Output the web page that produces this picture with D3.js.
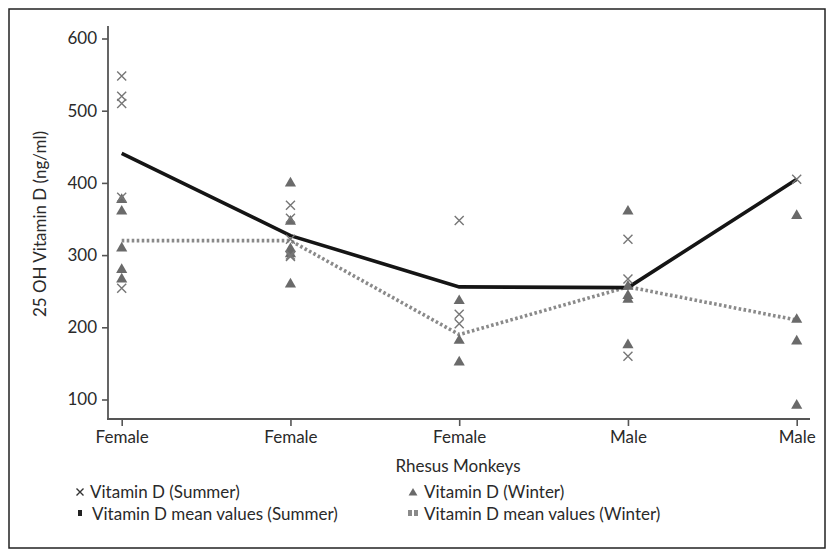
<!DOCTYPE html>
<html><head><meta charset="utf-8">
<script src="https://cdn.jsdelivr.net/npm/d3@7"></script>
<style>
html,body{margin:0;padding:0;background:#fff;}
text{font-family:Lato,"Open Sans",sans-serif;fill:#2a2a2a;}
</style></head>
<body>
<svg id="chart" width="826" height="558"></svg>
<script>
const categories = ["Female","Female","Female","Male","Male"];
const summerValues = [[548,520,510,380,254],[369,351,322,300,298],[348,218,205],[322,267,160],[405]];
const winterValues = [[378,362,311,281,268],[401,348,310,303,261],[238,183,153],[362,258,245,240,177],[356,212,182,93]];
const summerMean = [441,327,256,255,405];
const winterMean = [320,320,190,256,210];
const yTicks = [100,200,300,400,500,600];
const legendItems = ["Vitamin D (Summer)","Vitamin D (Winter)","Vitamin D mean values (Summer)","Vitamin D mean values (Winter)"];

const svg = d3.select("#chart");
const FS = 17;
svg.append("rect").attr("x",9).attr("y",9).attr("width",816).attr("height",539)
  .attr("fill","none").attr("stroke","#222").attr("stroke-width",1.5);

const y0 = d3.scaleLinear().domain([100,600]).range([399.5,38.5]);
const y = d3.scaleLinear().domain([y0.invert(419), y0.invert(26)]).range([419,26]);
const x = d3.scalePoint().domain(d3.range(categories.length)).range([121.7,796.7]);

const axisCol = "#555";
const gy = svg.append("g").attr("transform","translate(108,0)")
  .call(d3.axisLeft(y).tickValues(yTicks).tickSize(6).tickPadding(5));
gy.select(".domain").remove();
gy.selectAll(".tick line").attr("stroke",axisCol).attr("stroke-width",1.6);
gy.selectAll(".tick text").style("font-size",FS+"px").style("font-family","Lato").attr("fill","#2a2a2a");
svg.append("line").attr("x1",108).attr("x2",108).attr("y1",26).attr("y2",420)
  .attr("stroke",axisCol).attr("stroke-width",1.8);

const gx = svg.append("g").attr("transform","translate(0,419)")
  .call(d3.axisBottom(x).tickFormat(i=>categories[i]).tickSize(7).tickPadding(5));
gx.select(".domain").remove();
gx.selectAll(".tick line").attr("stroke",axisCol).attr("stroke-width",1.6);
gx.selectAll(".tick text").style("font-size",FS+"px").style("font-family","Lato").attr("fill","#2a2a2a");
svg.append("line").attr("x1",107).attr("x2",810).attr("y1",419).attr("y2",419)
  .attr("stroke",axisCol).attr("stroke-width",1.8);

svg.append("text").attr("x",458).attr("y",472).attr("text-anchor","middle")
  .style("font-size",FS+"px").text("Rhesus Monkeys");
svg.append("text").attr("transform","translate(46,224) rotate(-90)").attr("text-anchor","middle")
  .style("font-size",FS+"px").text("25 OH Vitamin D (ng/ml)");

const line = d3.line().x((d,i)=>x(i)).y(d=>y(d));
svg.append("path").datum(winterMean).attr("d",line).attr("fill","none")
  .attr("stroke","#8a8a8a").attr("stroke-width",3.6).attr("stroke-dasharray","2.6,2.4");
svg.append("path").datum(summerMean).attr("d",line).attr("fill","none")
  .attr("stroke","#151515").attr("stroke-width",3.6);

const summerPts = summerValues.flatMap((arr,i)=>arr.map(v=>({i,v})));
const winterPts = winterValues.flatMap((arr,i)=>arr.map(v=>({i,v})));
const tri = d3.symbol().type(d3.symbolTriangle).size(54);
svg.append("g").selectAll("path").data(winterPts).join("path")
  .attr("d",tri).attr("transform",d=>`translate(${x(d.i)},${y(d.v)+1})`)
  .attr("fill","#6a6a6a");
const xs = 4.5;
svg.append("g").selectAll("path").data(summerPts).join("path")
  .attr("d",`M${-xs},${-xs}L${xs},${xs}M${-xs},${xs}L${xs},${-xs}`)
  .attr("transform",d=>`translate(${x(d.i)},${y(d.v)})`)
  .attr("stroke","#777").attr("stroke-width",1.4).attr("fill","none");

const lg = svg.append("g");
const LFS = 17;
lg.append("path").attr("d","M-3.5,-3.5L3.5,3.5M-3.5,3.5L3.5,-3.5").attr("transform","translate(80,492)")
  .attr("stroke","#333").attr("stroke-width",1.4);
lg.append("text").attr("x",90).attr("y",498).style("font-size",LFS+"px").text(legendItems[0]);
lg.append("path").attr("d",d3.symbol().type(d3.symbolTriangle).size(34)()).attr("transform","translate(413,493)").attr("fill","#6a6a6a");
lg.append("text").attr("x",424).attr("y",498).style("font-size",LFS+"px").text(legendItems[1]);
lg.append("rect").attr("x",78).attr("y",510).attr("width",4).attr("height",6).attr("fill","#222");
lg.append("text").attr("x",92).attr("y",520).style("font-size",LFS+"px").text(legendItems[2]);
lg.append("rect").attr("x",408).attr("y",510).attr("width",4).attr("height",6).attr("fill","#8a8a8a");
lg.append("rect").attr("x",414).attr("y",510).attr("width",4).attr("height",6).attr("fill","#8a8a8a");
lg.append("text").attr("x",424).attr("y",520).style("font-size",LFS+"px").text(legendItems[3]);
</script>
</body></html>
